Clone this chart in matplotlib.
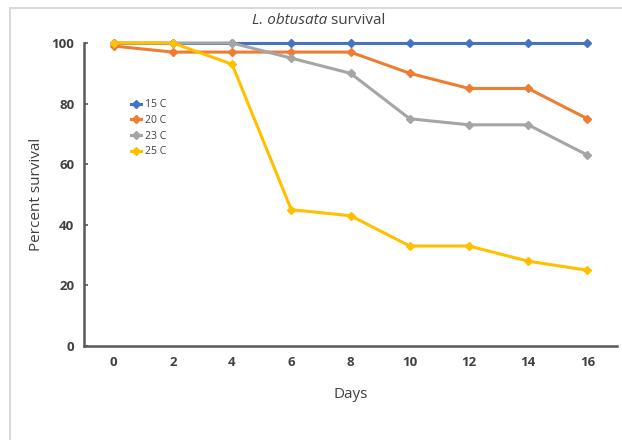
import matplotlib.pyplot as plt
from matplotlib.patches import Rectangle

# data
days = [0, 2, 4, 6, 8, 10, 12, 14, 16]
surv_15 = [100, 100, 100, 100, 100, 100, 100, 100, 100]
surv_20 = [99, 97, 97, 97, 97, 90, 85, 85, 75]
surv_23 = [100, 100, 100, 95, 90, 75, 73, 73, 63]
surv_25 = [100, 100, 93, 45, 43, 33, 33, 28, 25]
labels = ['15 C', '20 C', '23 C', '25 C']
colors = ['#4472C4', '#ED7D31', '#A5A5A5', '#FFC000']

plt.rcParams['font.family'] = ['Open Sans', 'DejaVu Sans']
txt_col = '#404040'

fig = plt.figure(figsize=(6.22, 4.4), dpi=100)
# light chart-area border (runs off the right and bottom edges)
fig.patches.append(Rectangle((10 / 622, -0.1), 1.2, 1 - 8 / 440 + 0.1,
                             transform=fig.transFigure, fill=False,
                             edgecolor='#D9D9D9', linewidth=1.5))

ax = fig.add_axes([84 / 622, 1 - 346 / 440, (617 - 84) / 622, (346 - 43) / 440])

series = [surv_15, surv_20, surv_23, surv_25]
pos = list(range(len(days)))
for vals, lab, col in zip(series, labels, colors):
    ax.plot(pos, vals, color=col, linewidth=2.2, marker='D', markersize=4.5,
            label=lab, clip_on=False)

ax.set_xlim(-0.5, len(days) - 0.5)
ax.set_ylim(0, 100)
ax.set_xticks(pos)
ax.set_xticklabels([str(d) for d in days])
ax.set_yticks([0, 20, 40, 60, 80, 100])

for s in ['top', 'right']:
    ax.spines[s].set_visible(False)
for s in ['left', 'bottom']:
    ax.spines[s].set_color('#595959')
    ax.spines[s].set_linewidth(1.8)

ax.tick_params(axis='x', length=0, pad=7, labelsize=9.5, labelcolor=txt_col)
ax.tick_params(axis='y', direction='in', length=3, width=1.2, color='#595959',
               pad=7, labelsize=9.5, labelcolor=txt_col)
for t in ax.get_xticklabels() + ax.get_yticklabels():
    t.set_fontweight('bold')

ax.set_xlabel('Days', fontsize=11, color=txt_col, labelpad=13)
ax.set_ylabel('Percent survival', fontsize=11, color=txt_col, labelpad=5.5)

# title: italic species name followed by plain text
title_y = 1 - 20 / 440
t1 = fig.text(0, title_y, 'L. obtusata', fontstyle='italic', ha='left',
              va='center', fontsize=11, color=txt_col)
t2 = fig.text(0, title_y, ' survival', ha='left', va='center', fontsize=11,
              color=txt_col)
fig.canvas.draw()
r = fig.canvas.get_renderer()
w1 = t1.get_window_extent(r).width
w2 = t2.get_window_extent(r).width
x0 = 319 - (w1 + w2) / 2
t1.set_x(x0 / 622)
t2.set_x((x0 + w1) / 622)

leg = ax.legend(loc='upper left', bbox_to_anchor=(43 / 533, 1 - 52 / 303),
                frameon=False, fontsize=7.5, handlelength=0.9, handletextpad=0.4,
                labelspacing=0.45, borderaxespad=0)
for t in leg.get_texts():
    t.set_color(txt_col)

fig.savefig('out.png', dpi=100)
